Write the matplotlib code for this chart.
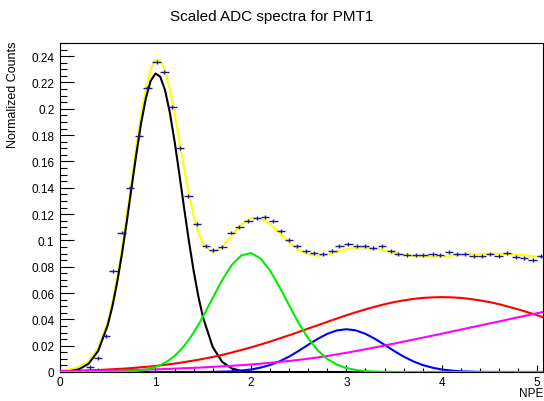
import matplotlib.pyplot as plt
from matplotlib.ticker import MultipleLocator, FormatStrFormatter

plt.rcParams['font.family'] = ['Liberation Sans', 'DejaVu Sans']

# measured points (NPE, normalized counts)
data_x = [0.314, 0.401, 0.479, 0.559, 0.645, 0.734, 0.828, 0.915, 1.013, 1.093,
          1.177, 1.258, 1.345, 1.433, 1.527, 1.607, 1.701, 1.789, 1.880, 1.974,
          2.062, 2.149, 2.236, 2.317, 2.401, 2.481, 2.577, 2.662, 2.754, 2.854,
          2.928, 3.022, 3.110, 3.197, 3.277, 3.372, 3.466, 3.546, 3.634, 3.732,
          3.808, 3.903, 3.983, 4.078, 4.158, 4.245, 4.333, 4.420, 4.507, 4.595,
          4.683, 4.777, 4.864, 4.951, 5.039]
data_y = [0.0040, 0.0105, 0.0275, 0.0770, 0.1060, 0.1395, 0.1790, 0.2160, 0.2355, 0.2280,
          0.2017, 0.1700, 0.1340, 0.1124, 0.0955, 0.0927, 0.0948, 0.1060, 0.1100, 0.1145,
          0.1170, 0.1180, 0.1145, 0.1070, 0.1005, 0.0960, 0.0920, 0.0905, 0.0897, 0.0920,
          0.0955, 0.0970, 0.0960, 0.0960, 0.0940, 0.0960, 0.0920, 0.0897, 0.0890, 0.0890,
          0.0890, 0.0897, 0.0890, 0.0910, 0.0897, 0.0897, 0.0884, 0.0884, 0.0897, 0.0884,
          0.0905, 0.0872, 0.0864, 0.0854, 0.0884]
bin_half = 0.044
point_err = 0.0015

# fit curves (finer sampling around the 1 PE peak)
curve_x = [0.0, 0.1, 0.2, 0.3, 0.4, 0.5,
           0.55, 0.6, 0.65, 0.7, 0.75, 0.8, 0.85, 0.9, 0.95, 1.0,
           1.05, 1.1, 1.15, 1.2, 1.25, 1.3, 1.35, 1.4, 1.45,
           1.5, 1.6, 1.7, 1.8, 1.9,
           2.0, 2.1, 2.2, 2.3, 2.4, 2.5, 2.6, 2.7, 2.8, 2.9,
           3.0, 3.1, 3.2, 3.3, 3.4, 3.5, 3.6, 3.7, 3.8, 3.9,
           4.0, 4.1, 4.2, 4.3, 4.4, 4.5, 4.6, 4.7, 4.8, 4.9,
           5.0, 5.06]
total_y = [0.0014, 0.0020, 0.0038, 0.0084, 0.0184, 0.0386,
           0.0536, 0.0723, 0.0943, 0.1190, 0.1454, 0.1716, 0.1959, 0.2159, 0.2302, 0.2373,
           0.2368, 0.2292, 0.2151, 0.1967, 0.1759, 0.1549, 0.1354, 0.1188, 0.1057,
           0.0970, 0.0907, 0.0951, 0.1041, 0.1124,
           0.1169, 0.1167, 0.1126, 0.1059, 0.0987, 0.0928, 0.0894, 0.0883, 0.0892, 0.0912,
           0.0932, 0.0944, 0.0946, 0.0938, 0.0924, 0.0907, 0.0892, 0.0882, 0.0877, 0.0876,
           0.0879, 0.0885, 0.0890, 0.0896, 0.0898, 0.0900, 0.0899, 0.0896, 0.0892, 0.0885,
           0.0878, 0.0872]
pe1_y = [0.0002, 0.0006, 0.0021, 0.0063, 0.0160, 0.0356,
         0.0503, 0.0686, 0.0902, 0.1145, 0.1403, 0.1658, 0.1892, 0.2082, 0.2213, 0.2268,
         0.2244, 0.2143, 0.1974, 0.1755, 0.1506, 0.1247, 0.0997, 0.0769, 0.0572,
         0.0411, 0.0190, 0.0076, 0.0027, 0.0008,
         0.0002] + [0.0] * 31
pe2_y = [0.0, 0.0, 0.0, 0.0, 0.0, 0.0001,
         0.0001, 0.0002, 0.0003, 0.0004, 0.0006, 0.0009, 0.0014, 0.0020, 0.0028, 0.0039,
         0.0053, 0.0071, 0.0094, 0.0122, 0.0157, 0.0198, 0.0246, 0.0300, 0.0359,
         0.0424, 0.0563, 0.0699, 0.0814, 0.0886,
         0.0904, 0.0863, 0.0772, 0.0646, 0.0507, 0.0372, 0.0256, 0.0165, 0.0099, 0.0056,
         0.0030, 0.0015, 0.0007, 0.0003, 0.0001] + [0.0] * 17
pe3_y = [0.0] * 26 + [0.0001, 0.0003, 0.0005, 0.0011,
                      0.0019, 0.0033, 0.0053, 0.0081, 0.0117, 0.0160, 0.0207, 0.0252, 0.0290, 0.0316,
                      0.0325, 0.0316, 0.0290, 0.0252, 0.0207, 0.0160, 0.0117, 0.0081, 0.0053, 0.0033,
                      0.0019, 0.0011, 0.0005, 0.0003, 0.0001] + [0.0] * 7
broad_y = [0.0007, 0.0008, 0.0010, 0.0013, 0.0015, 0.0019,
           0.0021, 0.0023, 0.0025, 0.0027, 0.0030, 0.0033, 0.0036, 0.0039, 0.0042, 0.0046,
           0.0050, 0.0055, 0.0059, 0.0064, 0.0069, 0.0075, 0.0081, 0.0087, 0.0093,
           0.0100, 0.0114, 0.0130, 0.0148, 0.0167,
           0.0187, 0.0208, 0.0231, 0.0255, 0.0279, 0.0304, 0.0330, 0.0355, 0.0381, 0.0406,
           0.0431, 0.0454, 0.0476, 0.0496, 0.0515, 0.0531, 0.0544, 0.0555, 0.0563, 0.0567,
           0.0569, 0.0567, 0.0563, 0.0555, 0.0544, 0.0531, 0.0515, 0.0496, 0.0476, 0.0454,
           0.0431, 0.0416]
bkg_y = [0.0005, 0.0006, 0.0007, 0.0008, 0.0009, 0.0010,
         0.0011, 0.0012, 0.0013, 0.0014, 0.0015, 0.0016, 0.0017, 0.0018, 0.0019, 0.0020,
         0.0021, 0.0023, 0.0024, 0.0026, 0.0027, 0.0029, 0.0030, 0.0032, 0.0033,
         0.0035, 0.0039, 0.0043, 0.0047, 0.0052,
         0.0057, 0.0063, 0.0070, 0.0077, 0.0084, 0.0092, 0.0101, 0.0111, 0.0122, 0.0134,
         0.0146, 0.0159, 0.0173, 0.0187, 0.0201, 0.0216, 0.0231, 0.0246, 0.0261, 0.0276,
         0.0291, 0.0307, 0.0322, 0.0338, 0.0353, 0.0369, 0.0384, 0.0400, 0.0416, 0.0431,
         0.0447, 0.0456]

fig = plt.figure(figsize=(5.44, 4.02), dpi=100)
ax = fig.add_axes([60 / 544, 1 - 373 / 402, 483 / 544, 329 / 402])

ax.plot(curve_x, total_y, color='#ffff00', lw=1.5, zorder=2)
ax.plot(curve_x, pe1_y, color='black', lw=1.5, zorder=3)
ax.plot(curve_x, pe3_y, color='#0000ff', lw=1.5, zorder=3)
ax.plot(curve_x, broad_y, color='#ff0000', lw=1.5, zorder=3)
ax.plot(curve_x, bkg_y, color='#ff00ff', lw=1.5, zorder=3)
ax.plot(curve_x, pe2_y, color='#00ee00', lw=1.5, zorder=3)
ax.errorbar(data_x, data_y, xerr=bin_half, yerr=point_err, fmt='none',
            ecolor='#1a1a99', elinewidth=1, capsize=0, zorder=5)

ax.set_xlim(0, 5.06)
ax.set_ylim(0, 0.25)
ax.xaxis.set_major_locator(MultipleLocator(1))
ax.xaxis.set_minor_locator(MultipleLocator(0.2))
ax.yaxis.set_major_locator(MultipleLocator(0.02))
ax.yaxis.set_minor_locator(MultipleLocator(0.005))
ax.yaxis.set_major_formatter(FormatStrFormatter('%g'))
ax.tick_params(which='both', direction='in', top=False, right=False, labelsize=8.5, width=0.8)
ax.tick_params(axis='y', which='major', length=10, pad=4)
ax.tick_params(axis='y', which='minor', length=5)
ax.tick_params(axis='x', which='major', length=5, pad=3)
ax.tick_params(axis='x', which='minor', length=3)
for s in ax.spines.values():
    s.set_linewidth(0.8)

fig.text(0.5, 1 - 17 / 402, 'Scaled ADC spectra for PMT1', ha='center', va='center', fontsize=11)
fig.text(13 / 544, 1 - 42 / 402, 'Normalized Counts', rotation=90, ha='center', va='top', fontsize=9)
fig.text(543 / 544, 1 - 394 / 402, 'NPE', ha='right', va='center', fontsize=8.5)

plt.savefig('out.png', dpi=100)
plt.close()
